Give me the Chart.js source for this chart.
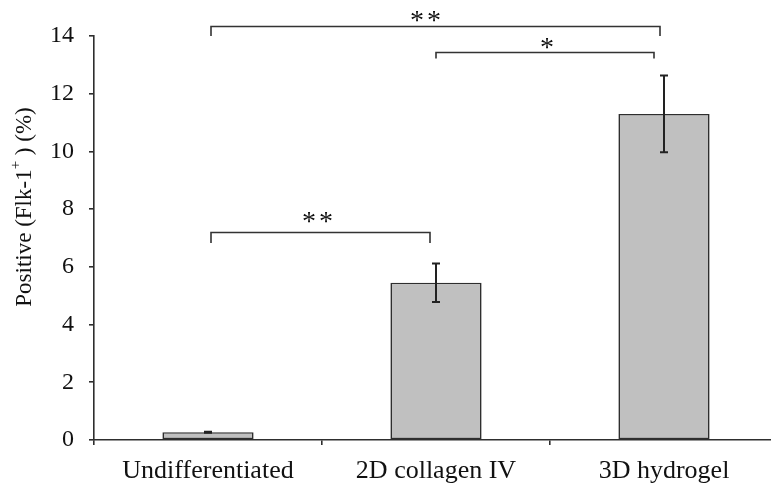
<!DOCTYPE html>
<html>
<head>
<meta charset="utf-8">
<script src="https://cdn.jsdelivr.net/npm/chart.js@4.4.1/dist/chart.umd.min.js"></script>
<style>
  html, body { margin: 0; padding: 0; background: #fff; overflow: hidden; }
  #wrap { width: 800px; height: 493px; }
</style>
</head>
<body>
<div id="wrap"><canvas id="chart" width="800" height="493"></canvas></div>
<script>
// data
const categories = ["Undifferentiated", "2D collagen IV", "3D hydrogel"];
const means = [0.27, 5.45, 11.3];
const errors = [0.02, 0.67, 1.33];

// significance brackets: [left category, right category], bar height, leg end, label
const sigPairs = [[0, 1], [1, 2], [0, 2]];
const sigLevels = [7.2, 13.45, 14.35];
const sigLegEnds = [6.83, 13.22, 14.0];
const sigLabels = ["**", "*", "**"];

const yTitle = ["Positive (Flk-1", "+", " ) (%)"];

const SERIF = "'Liberation Serif', 'DejaVu Serif', serif";
const INK = "#111";

const errorBars = {
    id: "errorBars",
    afterDatasetsDraw(chart) {
        const { ctx, scales: { y } } = chart;
        const meta = chart.getDatasetMeta(0);
        ctx.save();
        ctx.strokeStyle = "#222";
        ctx.lineWidth = 2;
        meta.data.forEach((bar, i) => {
            const top = y.getPixelForValue(means[i] + errors[i]);
            const bot = y.getPixelForValue(means[i] - errors[i]);
            ctx.beginPath();
            ctx.moveTo(bar.x, top);
            ctx.lineTo(bar.x, bot);
            ctx.moveTo(bar.x - 4, top);
            ctx.lineTo(bar.x + 4, top);
            ctx.moveTo(bar.x - 4, bot);
            ctx.lineTo(bar.x + 4, bot);
            ctx.stroke();
        });
        ctx.restore();
    }
};

const brackets = {
    id: "brackets",
    afterDraw(chart) {
        const { ctx, scales: { x, y } } = chart;
        ctx.save();
        ctx.strokeStyle = "#333";
        ctx.lineWidth = 1.6;
        ctx.fillStyle = INK;
        ctx.textAlign = "center";
        ctx.textBaseline = "alphabetic";
        ctx.font = "28px " + SERIF;
        // [left inset, right inset, label dx, label gap above bracket]
        const tweak = [[3, -6, -3, 11], [0, -10, 2, 5], [3, -4, -10, 6]];
        sigPairs.forEach(([a, b], i) => {
            const [l, r, dx, gap] = tweak[i];
            const x0 = x.getPixelForValue(a) + l;
            const x1 = x.getPixelForValue(b) + r;
            const yy = Math.round(y.getPixelForValue(sigLevels[i])) + 0.5;
            const yl = y.getPixelForValue(sigLegEnds[i]);
            ctx.beginPath();
            ctx.moveTo(x0, yl);
            ctx.lineTo(x0, yy);
            ctx.lineTo(x1, yy);
            ctx.lineTo(x1, yl);
            ctx.stroke();
            const stars = sigLabels[i].length;
            const cx = (x0 + x1) / 2 + dx;
            for (let k = 0; k < stars; k++) {
                const sx = cx + (k - (stars - 1) / 2) * 17;
                ctx.fillText("*", sx, yy - gap + 8);
            }
        });
        ctx.restore();
    }
};

const axisTitle = {
    id: "axisTitle",
    afterDraw(chart) {
        const { ctx } = chart;
        ctx.save();
        ctx.fillStyle = INK;
        ctx.textBaseline = "middle";
        ctx.textAlign = "left";
        const big = "23px " + SERIF;
        const small = "15px " + SERIF;
        ctx.font = big;
        const w0 = ctx.measureText(yTitle[0]).width;
        const w2 = ctx.measureText(yTitle[2]).width;
        ctx.font = small;
        const w1 = ctx.measureText(yTitle[1]).width;
        const total = w0 + w1 + w2;
        ctx.translate(25, 207);
        ctx.rotate(-Math.PI / 2);
        let cx = -total / 2;
        ctx.font = big;
        ctx.fillText(yTitle[0], cx, 0);
        cx += w0;
        ctx.font = small;
        ctx.fillText(yTitle[1], cx, -9);
        cx += w1;
        ctx.font = big;
        ctx.fillText(yTitle[2], cx, 0);
        ctx.restore();
    }
};

new Chart(document.getElementById("chart"), {
    type: "bar",
    data: {
        labels: categories,
        datasets: [{
            data: means,
            backgroundColor: "#c0c0c0",
            borderColor: "#2e2e2e",
            borderWidth: 1.6,
            borderSkipped: false,
            barPercentage: 0.4,
            categoryPercentage: 1.0,
        }]
    },
    options: {
        responsive: false,
        animation: false,
        events: [],
        layout: { padding: { top: 36, right: 22, left: 0, bottom: 0 } },
        plugins: {
            legend: { display: false },
            tooltip: { enabled: false },
        },
        scales: {
            x: {
                offset: true,
                afterFit(scale) { scale.height = 53; },
                border: { color: "#2e2e2e", width: 1.6 },
                grid: {
                    offset: true,
                    drawOnChartArea: false,
                    tickLength: 5,
                    color: "#2e2e2e",
                    lineWidth: 1.6,
                },
                ticks: {
                    color: INK,
                    padding: 11,
                    font: { family: SERIF, size: 26 },
                    maxRotation: 0,
                }
            },
            y: {
                min: 0,
                max: 14,
                afterFit(scale) { scale.width = 94; },
                border: { color: "#2e2e2e", width: 1.6 },
                grid: {
                    drawOnChartArea: false,
                    tickLength: 5,
                    color: "#2e2e2e",
                    lineWidth: 1.6,
                },
                ticks: {
                    stepSize: 2,
                    color: INK,
                    padding: 15,
                    font: { family: SERIF, size: 24 },
                }
            }
        }
    },
    plugins: [errorBars, brackets, axisTitle]
});
</script>
</body>
</html>
